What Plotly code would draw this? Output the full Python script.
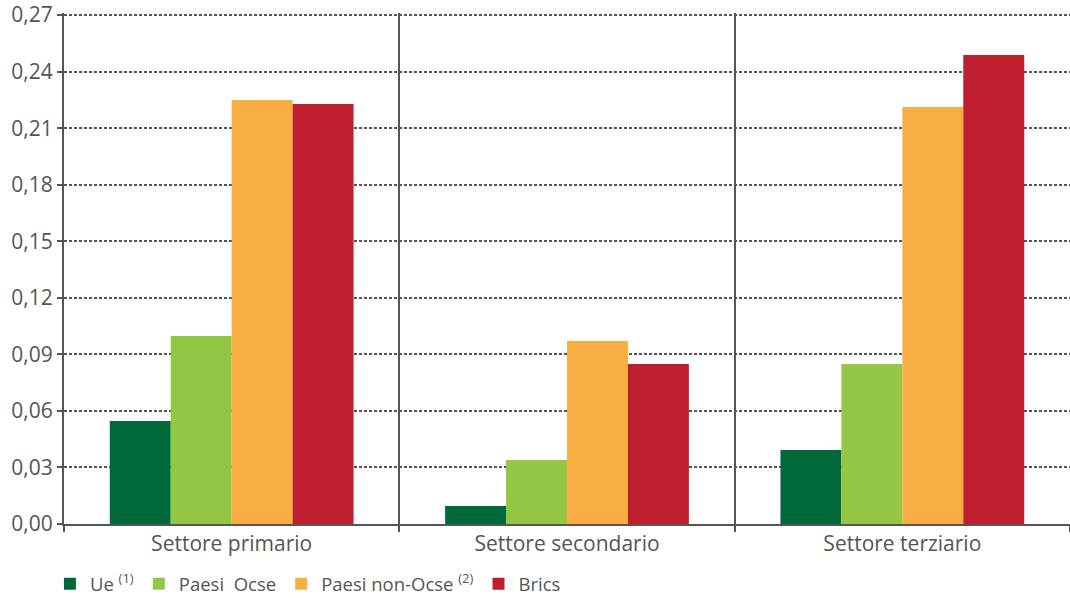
import plotly.graph_objects as go

categories = ["Settore primario", "Settore secondario", "Settore terziario"]
series_names = ["Ue <sup>(1)</sup>", "Paesi  Ocse", "Paesi non-Ocse <sup>(2)</sup>", "Brics"]
ue = [0.0546, 0.0095, 0.0393]
ocse = [0.0997, 0.0340, 0.0849]
non_ocse = [0.2249, 0.0971, 0.2212]
brics = [0.2228, 0.0849, 0.2488]
colors = ["#00693a", "#93c642", "#f9ae44", "#be1e2e"]
y_ticks = [0, 0.03, 0.06, 0.09, 0.12, 0.15, 0.18, 0.21, 0.24, 0.27]

fig = go.Figure()
for name, vals, col in zip(series_names, [ue, ocse, non_ocse, brics], colors):
    fig.add_trace(go.Bar(x=categories, y=vals, name=name, marker=dict(color=col, line=dict(width=0))))

axis_col = "#555555"
fs = 21
fig.update_layout(
    width=1070, height=604,
    margin=dict(l=64, r=0, t=13, b=80),
    barmode="group", bargap=0.273, bargroupgap=0,
    separators=",.",
    plot_bgcolor="white", paper_bgcolor="white",
    font=dict(family="Open Sans", size=fs, color="#555555"),
    showlegend=True,
    legend=dict(orientation="h", x=-0.014, xanchor="left", y=-0.155, yanchor="bottom",
                font=dict(size=18.5, color="#555555"), itemwidth=30, traceorder="normal"),
    xaxis=dict(tickson="boundaries", showgrid=True, gridcolor=axis_col, gridwidth=1.5,
               showline=True, linecolor=axis_col, linewidth=2, automargin=False,
               ticks="outside", ticklen=6, tickcolor=axis_col, tickwidth=1.5,
               tickfont=dict(size=fs, color="#555555")),
    yaxis=dict(range=[0, 0.2711], tickvals=y_ticks, tickformat=".2f", automargin=False,
               ticklabeloverflow="allow",
               showgrid=True, gridcolor=axis_col, gridwidth=1.5, griddash="3px,2px",
               showline=True, linecolor=axis_col, linewidth=2,
               ticks="outside", ticklen=5, tickcolor=axis_col, tickwidth=1.5,
               zeroline=False, tickfont=dict(size=fs, color="#555555")),
)
fig.write_html("out.html", config={"displayModeBar": False},
               post_script="document.body.style.margin='0';document.body.style.overflow='hidden';")
